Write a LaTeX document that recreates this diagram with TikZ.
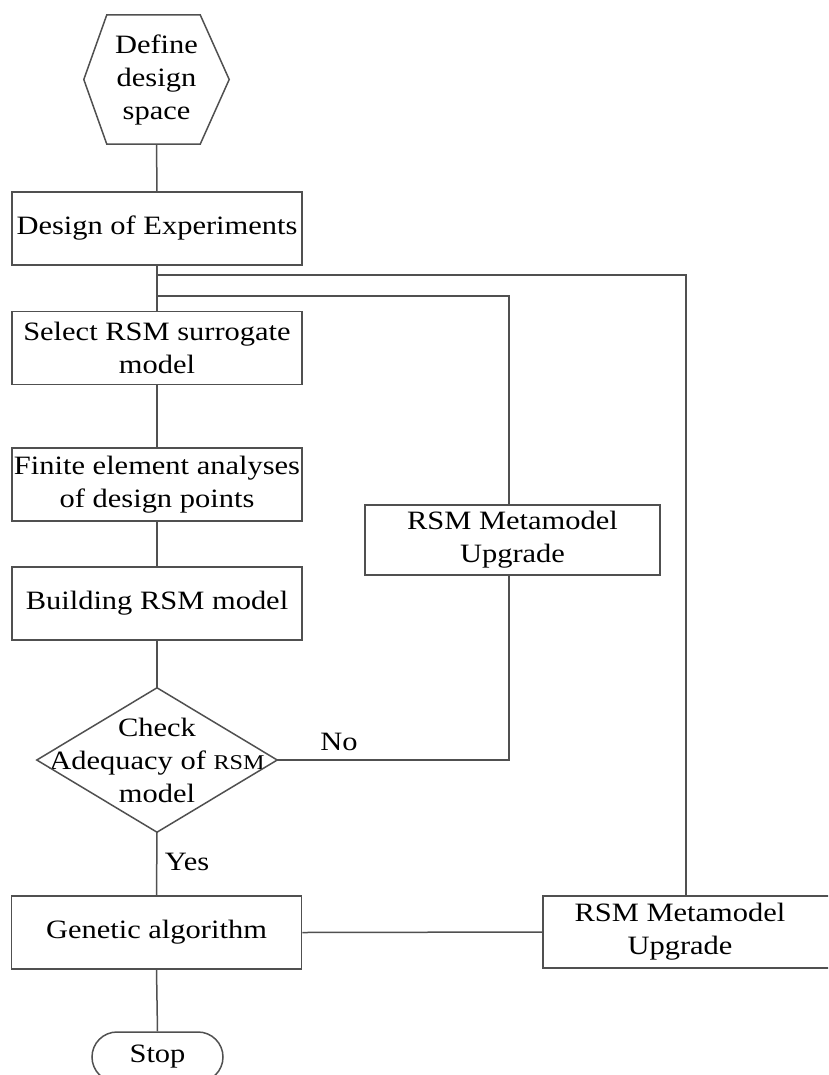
\documentclass[tikz,border=0pt]{standalone}
\usepackage{fontspec}
\setmainfont{Liberation Serif}[FakeStretch=1.15]
\usetikzlibrary{shapes.misc,calc}
\definecolor{lc}{HTML}{505050}
\begin{document}
\begin{tikzpicture}[x=1pt,y=-1pt,
  every node/.style={font=\fontsize{26.5}{33}\selectfont, text=black},
  box/.style={draw=lc, line width=1.5pt, minimum width=290pt, minimum height=73pt, inner sep=0pt, align=center},
  conn/.style={draw=lc, line width=1.5pt}]
\useasboundingbox (0,0) rectangle (828,1075);
\clip (0,0) rectangle (828,1075);
% start hexagon
\node[minimum width=145pt, minimum height=129pt, inner sep=0pt, align=center] (hex) at (156.5,79.5) {Define\\design\\space};
\draw[conn] (hex.west) -- ($(hex.north west)+(23,0)$) -- ($(hex.north east)+(-29,0)$) -- (hex.east) -- ($(hex.south east)+(-29,0)$) -- ($(hex.south west)+(23,0)$) -- cycle;
% boxes
\node[box] (doe) at (157,228.5) {Design of Experiments};
\node[box] (sel) at (157,348) {Select RSM surrogate\\model};
\node[box] (fea) at (157,484.5) {Finite element analyses\\of design points};
\node[box] (bld) at (157,603.5) {Building RSM model};
\node[minimum width=240pt, minimum height=144pt, inner sep=0pt, align=center] (chk) at (157,760) {Check\\Adequacy of {\fontsize{21}{33}\selectfont RSM}\\model};
\draw[conn] (chk.north) -- (chk.east) -- (chk.south) -- (chk.west) -- cycle;
\node[box, minimum width=295pt, minimum height=70pt] (ursm) at (512.5,540) {RSM Metamodel\\Upgrade};
\node[box] (gen) at (156.5,932.5) {Genetic algorithm};
\node[box, minimum width=300pt, minimum height=72pt, anchor=west] (lrsm) at (542,932) {};
\node[align=center] (lrsmt) at (680,932) {RSM Metamodel\\Upgrade};
\node[draw=lc, line width=1.5pt, rounded rectangle, minimum width=131pt, minimum height=50pt, inner sep=0pt] (stop) at (157.5,1057) {Stop};
% connectors
\coordinate (b1) at (157,275);
\coordinate (b2) at (157,296);
\coordinate (r1) at (686,275);
\coordinate (r2) at (509,296);
\draw[conn] (hex.south) -- (doe.north);
\draw[conn] (doe.south) -- (sel.north);
\draw[conn] (b1) -- (r1) -- (r1 |- lrsm.north);
\draw[conn] (b2) -- (r2) -- (r2 |- ursm.north);
\draw[conn] (sel.south) -- (fea.north);
\draw[conn] (fea.south) -- (bld.north);
\draw[conn] (bld.south) -- (chk.north);
\draw[conn] (chk.east) -- (chk.east -| r2) -- (r2 |- ursm.south);
\draw[conn] (chk.south) -- (gen.north);
\draw[conn] (gen.east) -- (lrsm.west);
\draw[conn] (gen.south) -- (stop.north);
% labels
\node (no) at (339,742) {No};
\node (yes) at (187,862) {Yes};
\end{tikzpicture}
\end{document}
